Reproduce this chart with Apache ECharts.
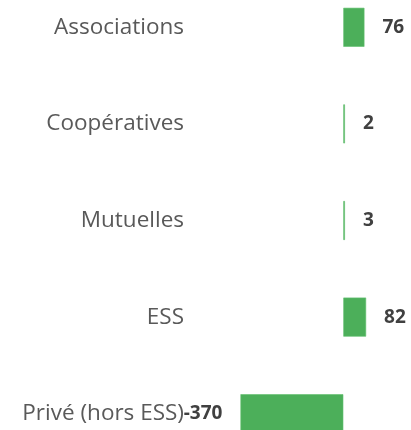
<!DOCTYPE html>
<html>
<head>
<meta charset="utf-8">
<script src="https://cdn.jsdelivr.net/npm/echarts@6/dist/echarts.min.js"></script>
<style>
  html, body { margin: 0; padding: 0; background: #fff; }
  #chart { width: 411px; height: 430px; }
</style>
</head>
<body>
<div id="chart"></div>
<script>
const categories = ['Associations', 'Coopératives', 'Mutuelles', 'ESS', 'Privé (hors ESS)']
const values = [76, 2, 3, 82, -370]

const chart = echarts.init(document.getElementById('chart'), null, { renderer: 'canvas' })

const option = {
  backgroundColor: '#fff',
  animation: false,
  grid: { left: 0, right: 0, top: -21, bottom: -32, outerBoundsMode: 'none', containLabel: false },
  xAxis: {
    type: 'value',
    min: -1235,
    max: 243.5,
    show: false
  },
  yAxis: {
    type: 'category',
    data: categories,
    inverse: true,
    axisLine: { show: false, onZero: false },
    axisTick: { show: false },
    axisLabel: {
      inside: true,
      align: 'right',
      margin: 184,
      fontFamily: 'Open Sans',
      fontSize: 22.5,
      color: '#595959'
    }
  },
  series: [{
    type: 'bar',
    barWidth: 39,
    barMinHeight: 1.6, // petites valeurs (2, 3) visibles comme un trait vert
    data: values.map(v => ({
      value: v,
      label: { position: v < 0 ? 'left' : 'right' }
    })),
    itemStyle: { color: '#4CAF5A', borderColor: '#62BF6F', borderWidth: 0.6 },
    label: {
      show: true,
      distance: 18,
      fontFamily: 'Open Sans',
      fontWeight: 'bold',
      fontSize: 19,
      color: '#404040'
    }
  }]
}

chart.setOption(option)
</script>
</body>
</html>
